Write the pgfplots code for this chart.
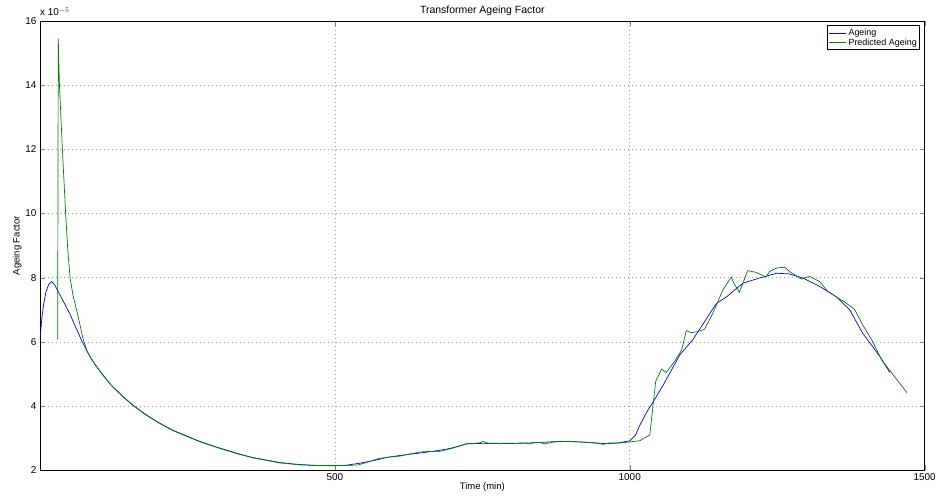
\documentclass[border=0pt]{standalone}
\usepackage{fontspec}
\setmainfont{Liberation Sans}
\usepackage{pgfplots}
\pgfplotsset{compat=1.18}
\definecolor{mgreen}{rgb}{0,0.5,0}
\begin{document}
\fontsize{10}{12}\selectfont
\begin{tikzpicture}
\begin{axis}[
  scale only axis,
  width=885bp, height=449.5bp,
  xmin=0, xmax=1500, ymin=2, ymax=16,
  xtick={500,1000,1500},
  ytick={2,4,...,16},
  /pgf/number format/assume math mode=true,
  /pgf/number format/1000 sep={},
  tick label style={font=\fontsize{10}{12}\selectfont},
  tick align=inside,
  major tick length=5bp,
  xtick pos=both, ytick pos=both,
  grid=major,
  major grid style={dash pattern=on 0.8bp off 3.2bp, gray!75, line width=0.6pt},
  axis line style={line width=0.9pt},
  title={Transformer Ageing Factor},
  title style={font=\fontsize{10.5}{12}\selectfont, yshift=-4bp},
  xlabel={Time (min)},
  ylabel={Ageing Factor},
  label style={font=\fontsize{9.5}{11}\selectfont},
  xlabel style={yshift=5bp},
  ylabel style={yshift=-3bp},
  legend style={at={(rel axis cs:0.995,0.99)}, anchor=north east, draw=black, line width=0.8pt,
    font=\fontsize{9}{10}\selectfont, inner sep=1bp, row sep=-2bp, cells={anchor=west}},
  legend cell align=left,
]
\coordinate (sw) at (rel axis cs:0,0);
\coordinate (nw) at (rel axis cs:0,1);
\addplot[blue, line width=0.7pt] coordinates {
(0,6.05)(3,6.7)(6,7.15)(10,7.55)(15,7.8)(20,7.88)(25,7.78)(30,7.6)(40,7.25)(50,6.9)(60,6.48)(70,6.07)
(80,5.70)(90,5.39)(100,5.13)(106,4.99)(120,4.67)(140,4.31)(157,4.04)(180,3.73)(200,3.50)(225,3.25)(250,3.06)
(271,2.90)(300,2.72)(332,2.54)(360,2.40)(407,2.24)(440,2.18)(470,2.15)(500,2.14)(520,2.16)
(542,2.22)(570,2.32)(588,2.40)(610,2.46)(640,2.53)(666,2.59)(690,2.66)(710,2.75)(723,2.82)
(750,2.84)(780,2.83)(810,2.84)(840,2.86)(870,2.89)(893,2.90)(920,2.88)(945,2.85)(960,2.83)
(980,2.85)(1000,2.92)(1010,3.1)(1017,3.4)(1030,3.85)(1040,4.14)(1055,4.6)(1068,5.03)(1085,5.6)
(1107,6.07)(1124,6.55)(1147,7.2)(1164,7.40)(1180,7.65)(1192,7.83)(1220,7.99)(1249,8.14)
(1270,8.12)(1294,7.99)(1322,7.73)(1350,7.41)(1373,7.00)(1395,6.27)(1424,5.55)(1441,5.05)
};
\addlegendentry{Ageing}
\addplot[mgreen, line width=0.7pt] coordinates {
(30,6.07)(31,15.45)(33,14.0)(38,12.0)(43.5,10.0)(47,8.9)(51,8.0)(56,7.45)(62,7.0)(67,6.6)(73,6.1)
(80,5.71)(90,5.38)(100,5.13)(106,4.98)(120,4.66)(140,4.30)(157,4.03)(180,3.72)(200,3.49)(225,3.24)(250,3.05)
(271,2.89)(300,2.71)(332,2.53)(360,2.39)(407,2.23)(440,2.17)(470,2.15)(500,2.15)(520,2.15)
(540,2.17)(555,2.25)(575,2.37)(595,2.42)(610,2.44)(625,2.50)(645,2.57)(660,2.59)(675,2.58)
(700,2.69)(723,2.83)(745,2.85)(751,2.90)(760,2.84)(790,2.84)(820,2.85)(830,2.82)(840,2.87)
(850,2.86)(855,2.82)(870,2.88)(893,2.90)(920,2.88)(945,2.84)(955,2.81)(965,2.85)(983,2.85)
(1017,2.92)(1034,3.1)(1044,4.77)(1054,5.15)(1062,5.05)(1076,5.39)(1088,5.75)(1096,6.35)
(1104,6.29)(1116,6.32)(1127,6.40)(1141,6.90)(1158,7.62)(1172,8.02)(1178,7.78)(1186,7.55)
(1200,8.22)(1214,8.17)(1231,8.02)(1237,8.19)(1248,8.30)(1263,8.33)(1271,8.19)(1291,7.96)
(1305,8.04)(1322,7.88)(1336,7.57)(1350,7.41)(1367,7.21)(1381,7.02)(1395,6.53)(1412,6.01)
(1427,5.44)(1441,5.11)(1470,4.42)
};
\addlegendentry{Predicted Ageing}
\end{axis}
\node[anchor=base west, inner sep=0pt, font=\fontsize{10}{12}\selectfont] at ([yshift=5bp]nw) {x 10$^{-5}$};
\path (sw) ++(-40bp,-31.5bp) rectangle ++(939bp,502bp);
\end{tikzpicture}
\end{document}
